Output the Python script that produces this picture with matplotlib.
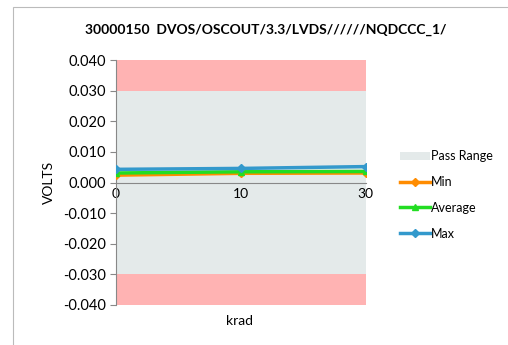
import matplotlib
matplotlib.use('Agg')
import matplotlib.pyplot as plt
from matplotlib.patches import Rectangle, Patch
from matplotlib.lines import Line2D

plt.rcParams['font.family'] = ['Lato', 'DejaVu Sans']

# データ
krad = ['0', '10', '30']
v_min = [0.0024, 0.0030, 0.0031]
v_avg = [0.0031, 0.0035, 0.0036]
v_max = [0.0043, 0.0046, 0.0052]
pass_lo, pass_hi = -0.030, 0.030
lim_lo, lim_hi = -0.040, 0.040
yticks = [0.040, 0.030, 0.020, 0.010, 0.000, -0.010, -0.020, -0.030, -0.040]

fig = plt.figure(figsize=(5.08, 3.45), dpi=100)
ax = fig.add_axes([0.228, 0.116, 0.492, 0.710])

x = list(range(len(krad)))
ax.axhspan(pass_hi, lim_hi, color='#FFB3B3', lw=0)
ax.axhspan(lim_lo, pass_lo, color='#FFB3B3', lw=0)
ax.axhspan(pass_lo, pass_hi, color='#E4EAEA', lw=0)

ax.plot(x, v_min, '-D', color='#FF8C00', lw=2.5, ms=4, zorder=3)
ax.plot(x, v_avg, '-^', color='#22DD22', lw=2.5, ms=4, zorder=4)
ax.plot(x, v_max, '-D', color='#3399CC', lw=2.5, ms=4, zorder=5)

ax.set_xlim(0, len(krad) - 1)
ax.set_ylim(lim_lo, lim_hi)
ax.set_yticks(yticks)
ax.set_yticklabels([f'{v:.3f}' for v in yticks], fontsize=10.5)
ax.set_xticks(x)
ax.set_xticklabels(krad, fontsize=8.5)
ax.tick_params(axis='x', length=0, pad=4)
ax.tick_params(axis='y', length=4, color='#888888', direction='out', pad=3)

for s in ['top', 'right']:
    ax.spines[s].set_visible(False)
ax.spines['bottom'].set_position(('data', 0))
ax.spines['bottom'].set_color('#888888')
ax.spines['left'].set_color('#888888')

ax.set_ylabel('VOLTS', fontsize=10, labelpad=6)
fig.text(0.472, 0.07, 'krad', ha='center', va='center', fontsize=10)
fig.text(0.523, 0.912, '30000150  DVOS/OSCOUT/3.3/LVDS//////NQDCCC_1/',
         ha='center', va='center', fontsize=10, fontweight='bold')

handles = [Patch(facecolor='#E4EAEA', edgecolor='none'),
           Line2D([], [], color='#FF8C00', lw=2.5, marker='D', ms=4),
           Line2D([], [], color='#22DD22', lw=2.5, marker='^', ms=4),
           Line2D([], [], color='#3399CC', lw=2.5, marker='D', ms=4)]
fig.legend(handles, ['Pass Range', 'Min', 'Average', 'Max'],
           loc='center left', bbox_to_anchor=(0.765, 0.435), frameon=False,
           fontsize=9, handlelength=2.4, handletextpad=0.1, labelspacing=1.1)

fig.patches.append(Rectangle((0.026, -0.1), 1.2, 1.08, transform=fig.transFigure,
                             fill=False, edgecolor='#BBBBBB', lw=0.8))

fig.savefig('out.png', dpi=100)
